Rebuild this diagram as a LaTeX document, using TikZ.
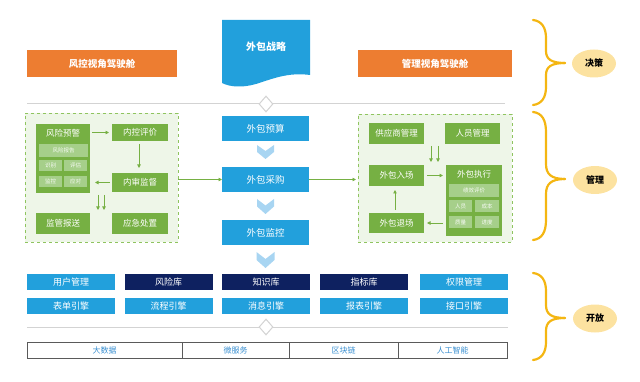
\documentclass[tikz,border=0pt]{standalone}
\usepackage{fontspec}
\setmainfont{Noto Sans CJK SC}
\usetikzlibrary{arrows.meta,shapes.geometric}
\definecolor{cblue}{HTML}{22A0DC}
\definecolor{cnavy}{HTML}{0E2160}
\definecolor{corange}{HTML}{ED7D31}
\definecolor{cgreen}{HTML}{76B043}
\definecolor{csub}{HTML}{A6CF8A}
\definecolor{cpanel}{HTML}{EEF6E8}
\definecolor{cpanelb}{HTML}{8FC45F}
\definecolor{cchev}{HTML}{A8D5F2}
\definecolor{cbrace}{HTML}{F4B612}
\definecolor{cell}{HTML}{FCE2A0}
\definecolor{cline}{HTML}{D3D3D3}
\definecolor{ctab}{HTML}{5A5A5A}
\definecolor{ctabtext}{HTML}{3A8FD0}
\begin{document}
\begin{tikzpicture}[x=1pt,y=-1pt,
  base/.style={inner sep=0pt,outer sep=0pt,align=center,text=white},
  bluebox/.style={base,fill=cblue,minimum width=87pt,minimum height=25pt,font=\fontsize{9.5}{11}\selectfont},
  orangebox/.style={base,fill=corange,minimum height=27pt,font=\bfseries\fontsize{9.5}{11}\selectfont},
  greenbox/.style={base,fill=cgreen,font=\fontsize{8.5}{10}\selectfont},
  gtitle/.style={base,font=\fontsize{8.5}{10}\selectfont},
  subbox/.style={base,fill=csub,text=white!92!csub,font=\fontsize{5.5}{6.5}\selectfont},
  panel/.style={base,fill=cpanel,draw=cpanelb,dashed,line width=0.7pt},
  rowbox/.style={base,minimum width=88pt,minimum height=16pt,font=\fontsize{9}{11}\selectfont},
  tabcell/.style={base,draw=ctab,line width=0.8pt,minimum height=16pt,text=ctabtext,font=\fontsize{8}{10}\selectfont},
  garrow/.style={draw=cgreen,line width=0.8pt,-{Triangle[length=3.5pt,width=3.5pt]}},
  chev/.style={fill=cchev,draw=none},
  sepline/.style={draw=cline,line width=1pt},
  diam/.style={diamond,draw=cline,fill=white,line width=1pt,minimum width=14pt,minimum height=16pt,inner sep=0pt},
  brace/.style={draw=cbrace,line width=2.2pt,line cap=round},
  tag/.style={ellipse,fill=cell,minimum width=44pt,minimum height=28pt,inner sep=0pt,font=\bfseries\fontsize{9}{11}\selectfont,text=black}
]
\path[use as bounding box] (0,0) rectangle (640,382);

% ---------- decision layer ----------
\node[orangebox,minimum width=150pt] (fk) at (102,63.5) {风控视角驾驶舱};
\node[orangebox,minimum width=154pt] (glv) at (435,63.5) {管理视角驾驶舱};
\fill[cblue] (222,20) -- (310,20) -- (310,75) .. controls (288,72) and (272,79) .. (256,84) .. controls (242,88) and (230,87) .. (222,83) -- cycle;
\node[base,font=\bfseries\fontsize{10}{12}\selectfont] (zl) at (266,47) {外包战略};

% separator 1
\coordinate (s1a) at (27,104);
\coordinate (s1b) at (505,104);
\draw[sepline] (s1a) -- (s1b);
\node[diam] (d1) at (266,104) {};

% ---------- management layer ----------
\node[panel,minimum width=153pt,minimum height=129pt] (lp) at (101.5,177.5) {};
\node[panel,minimum width=154pt,minimum height=128pt] (rp) at (435,178) {};

% left panel
\node[greenbox,minimum width=54pt,minimum height=69pt] (fxyj) at (63,158.5) {};
\node[gtitle] (fxyjt) at (63,133.5) {风险预警};
\node[subbox,minimum width=49pt,minimum height=13pt] (fxbg) at (63.5,150.5) {风险报告};
\node[subbox,minimum width=23pt,minimum height=11pt] (sb) at (50.5,165.5) {识别};
\node[subbox,minimum width=23pt,minimum height=11pt] (pg) at (75.5,165.5) {评估};
\node[subbox,minimum width=23pt,minimum height=11pt] (jk) at (50.5,181.5) {监控};
\node[subbox,minimum width=23pt,minimum height=11pt] (yd) at (75.5,181.5) {应对};
\node[greenbox,minimum width=56pt,minimum height=17pt] (nkpj) at (140,132.5) {内控评价};
\node[greenbox,minimum width=56pt,minimum height=19pt] (nsjd) at (140,182.5) {内审监督};
\node[greenbox,minimum width=54pt,minimum height=21pt] (jgbs) at (63,223.5) {监管报送};
\node[greenbox,minimum width=56pt,minimum height=21pt] (yjcz) at (140,223.5) {应急处置};

\draw[garrow] ([xshift=2pt]fxyj.east |- nkpj) -- ([xshift=-3pt]nkpj.west);
\draw[garrow] ([xshift=-1pt,yshift=-3pt]nkpj.south) -- ([xshift=-1pt,yshift=5pt]nsjd.north);
\draw[garrow] ([xshift=-2pt]nsjd.west) -- ([xshift=5pt]fxyj.east |- nsjd);
\draw[garrow] ([xshift=8pt,yshift=-2pt]fxyj.south east) -- ([xshift=8pt,yshift=3pt]fxyj.east |- jgbs.north);
\draw[garrow] ([xshift=14pt,yshift=-2pt]fxyj.south east) -- ([xshift=14pt,yshift=3pt]fxyj.east |- jgbs.north);

% right panel
\node[greenbox,minimum width=55pt,minimum height=21pt] (gys) at (396.5,133.5) {供应商管理};
\node[greenbox,minimum width=55pt,minimum height=21pt] (rygl) at (472.5,133.5) {人员管理};
\node[greenbox,minimum width=55pt,minimum height=21pt] (wbrc) at (396.5,175.5) {外包入场};
\node[greenbox,minimum width=56pt,minimum height=71pt] (wbzx) at (474,200.5) {};
\node[gtitle] (wbzxt) at (474,174.5) {外包执行};
\node[subbox,minimum width=50pt,minimum height=13pt] (jxpj) at (474,190.5) {绩效评价};
\node[subbox,minimum width=23pt,minimum height=12pt] (ry) at (460.5,206.5) {人员};
\node[subbox,minimum width=24pt,minimum height=12pt] (cb) at (487,206.5) {成本};
\node[subbox,minimum width=23pt,minimum height=12pt] (zlg) at (460.5,222) {质量};
\node[subbox,minimum width=24pt,minimum height=12pt] (jd) at (487,222) {进度};
\node[greenbox,minimum width=55pt,minimum height=20pt] (wbtc) at (396.5,223) {外包退场};

\draw[garrow] ([xshift=7pt,yshift=-2pt]gys.south east) -- ([xshift=7pt,yshift=3pt]gys.east |- wbzx.north);
\draw[garrow] ([xshift=14pt,yshift=-2pt]gys.south east) -- ([xshift=14pt,yshift=3pt]gys.east |- wbzx.north);
\draw[garrow] ([xshift=3pt]wbrc.east) -- ([xshift=-3pt]wbzx.west |- wbrc);
\draw[garrow] ([xshift=-3pt]wbzx.west |- wbtc) -- ([xshift=3pt]wbtc.east);
\draw[garrow] ([xshift=-1.5pt,yshift=3pt]wbtc.north) -- ([xshift=-1.5pt,yshift=-4pt]wbrc.south);

% centre column
\node[bluebox] (wbys) at (265.5,129) {外包预算};
\node[bluebox] (wbcg) at (265.5,179.5) {外包采购};
\node[bluebox] (wbjk) at (265.5,233) {外包监控};
\fill[chev] (257,145) -- (265.5,151) -- (274,145) -- (274,152) -- (265.5,159) -- (257,152) -- cycle;
\fill[chev] (257,199) -- (265.5,205.5) -- (274,199) -- (274,206.5) -- (265.5,214) -- (257,206.5) -- cycle;
\fill[chev] (256.5,252) -- (265.5,259) -- (274.5,252) -- (274.5,260) -- (265.5,268) -- (256.5,260) -- cycle;

\draw[garrow] (lp.east |- wbcg) -- (wbcg.west);
\draw[garrow] (wbcg.east) -- ([xshift=-2pt]rp.west |- wbcg);

% ---------- open layer ----------
\node[rowbox,fill=cblue] (yhgl) at (71,282) {用户管理};
\node[rowbox,fill=cnavy] (fxk) at (168.5,282) {风险库};
\node[rowbox,fill=cnavy] (zsk) at (266,282) {知识库};
\node[rowbox,fill=cnavy] (zbk) at (364,282) {指标库};
\node[rowbox,fill=cblue] (qxgl) at (464,282) {权限管理};
\node[rowbox,fill=cblue] (bdyq) at (71,306) {表单引擎};
\node[rowbox,fill=cblue] (lcyq) at (168.5,306) {流程引擎};
\node[rowbox,fill=cblue] (xxyq) at (266,306) {消息引擎};
\node[rowbox,fill=cblue] (bbyq) at (364,306) {报表引擎};
\node[rowbox,fill=cblue] (jkyq) at (464,306) {接口引擎};

\coordinate (s2a) at (27,327);
\coordinate (s2b) at (508,327);
\draw[sepline] (s2a) -- (s2b);
\node[diam] (d2) at (266,327) {};

\node[tabcell,minimum width=155pt] (dsj) at (104.5,350) {大数据};
\node[tabcell,minimum width=107pt] (wfw) at (235.5,350) {微服务};
\node[tabcell,minimum width=109pt] (qkl) at (343.5,350) {区块链};
\node[tabcell,minimum width=109pt] (rgzn) at (452.5,350) {人工智能};

% ---------- braces and tags ----------
\draw[brace] (533,20) .. controls (542,21) and (546,28) .. (546,38) -- (546,51) .. controls (546,59) and (551,63) .. (565,63);
\draw[brace] (533,105) .. controls (542,104) and (546,97) .. (546,87) -- (546,75) .. controls (546,67) and (551,63) .. (565,63);
\node[tag] (jc) at (594,63.5) {决策};

\draw[brace] (533,112) .. controls (542,113) and (546,120) .. (546,132) -- (546,164) .. controls (546,174) and (551,179) .. (565,179);
\draw[brace] (533,240) .. controls (542,239) and (546,232) .. (546,220) -- (546,194) .. controls (546,184) and (551,179) .. (565,179);
\node[tag] (glt) at (595,180) {管理};

\draw[brace] (533,273) .. controls (542,274) and (546,281) .. (546,291) -- (546,305) .. controls (546,314) and (551,318) .. (565,318);
\draw[brace] (533,360) .. controls (542,359) and (546,352) .. (546,342) -- (546,331) .. controls (546,322) and (551,318) .. (565,318);
\node[tag] (kf) at (595,318.5) {开放};
\end{tikzpicture}
\end{document}
